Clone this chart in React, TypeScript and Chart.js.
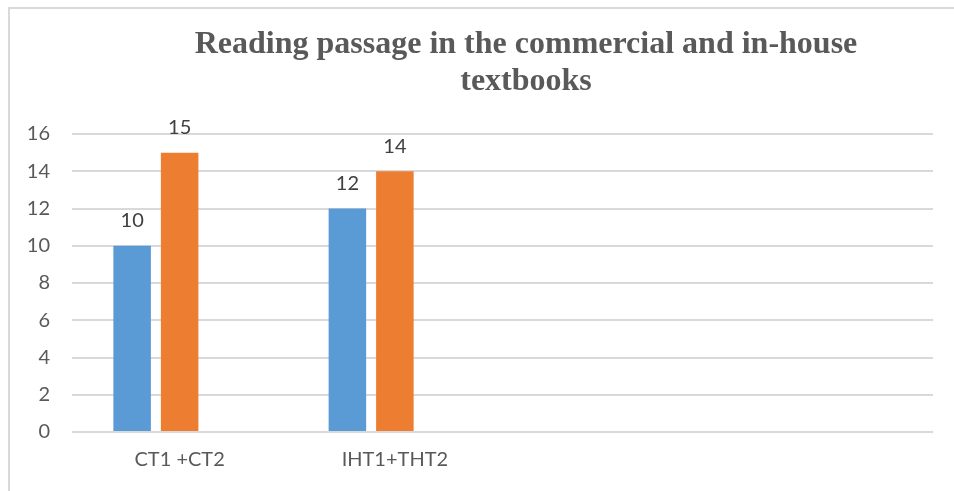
import React, { useEffect, useRef } from "react";
import { Chart, registerables } from "chart.js";

Chart.register(...registerables);

const titleLines = ["Reading passage in the commercial and in-house", "textbooks"];
const categories = ["CT1 +CT2", "IHT1+THT2", "", ""];
const series1 = [10, 12];
const series2 = [15, 14];
const series3: number[] = [];
const yTicks = [0, 2, 4, 6, 8, 10, 12, 14, 16];

const frameTitlePlugin = {
  id: "frameTitle",
  beforeDraw(chart: any) {
    const ctx = chart.ctx;
    ctx.save();
    ctx.fillStyle = "#ffffff";
    ctx.fillRect(0, 0, chart.width, chart.height);
    ctx.strokeStyle = "#d9d9d9";
    ctx.lineWidth = 2;
    ctx.beginPath();
    ctx.moveTo(9, chart.height);
    ctx.lineTo(9, 8);
    ctx.lineTo(chart.width, 8);
    ctx.stroke();
    ctx.fillStyle = "#595959";
    ctx.font = "bold 32px 'Liberation Serif', 'Times New Roman', serif";
    ctx.textAlign = "center";
    ctx.textBaseline = "alphabetic";
    ctx.fillText(titleLines[0], 526, 53);
    ctx.fillText(titleLines[1], 526, 90);
    ctx.restore();
  },
};

const valueLabelPlugin = {
  id: "valueLabels",
  afterDatasetsDraw(chart: any) {
    const ctx = chart.ctx;
    ctx.save();
    ctx.fillStyle = "#404040";
    ctx.font = "20px Lato, 'Open Sans', sans-serif";
    ctx.textAlign = "center";
    ctx.textBaseline = "alphabetic";
    chart.data.datasets.forEach((ds: any, di: number) => {
      const meta = chart.getDatasetMeta(di);
      meta.data.forEach((bar: any, i: number) => {
        const v = ds.data[i];
        if (v === undefined || v === null) return;
        ctx.fillText(String(v), bar.x, bar.y - 18.5);
      });
    });
    ctx.restore();
  },
};

export default function App() {
  const ref = useRef<HTMLCanvasElement>(null);
  useEffect(() => {
    if (!ref.current) return;
    const common = { categoryPercentage: 0.662, barPercentage: 0.79 };
    const chart = new Chart(ref.current, {
      type: "bar",
      data: {
        labels: categories,
        datasets: [
          { label: "Series 1", data: series1, backgroundColor: "#5B9BD5", ...common },
          { label: "Series 2", data: series2, backgroundColor: "#ED7D31", ...common },
          { label: "Series 3", data: series3, backgroundColor: "#A5A5A5", ...common },
        ],
      },
      options: {
        animation: false,
        responsive: false,
        maintainAspectRatio: false,
        layout: { padding: { top: 134, right: 21, left: 0, bottom: 0 } },
        plugins: { legend: { display: false }, title: { display: false }, tooltip: { enabled: false } },
        scales: {
          x: {
            grid: { display: false, drawTicks: false },
            border: { display: false },
            ticks: { color: "#595959", font: { family: "Lato, 'Open Sans', sans-serif", size: 20 }, padding: 16, maxRotation: 0, autoSkip: false },
            afterFit: (s: any) => { s.height = 59; },
          },
          y: {
            min: 0,
            max: 16,
            afterBuildTicks: (s: any) => { s.ticks = yTicks.map((v) => ({ value: v })); },
            grid: { color: "#d9d9d9", lineWidth: 2, drawTicks: false },
            border: { display: false },
            ticks: { color: "#595959", font: { family: "Lato, 'Open Sans', sans-serif", size: 20 }, padding: 22 },
            afterFit: (s: any) => { s.width = 72; },
          },
        },
      },
      plugins: [frameTitlePlugin, valueLabelPlugin],
    });
    return () => chart.destroy();
  }, []);
  return (
    <div style={{ position: "absolute", left: 0, top: 0, width: 954, height: 491, background: "#fff" }}>
      <canvas ref={ref} width={954} height={491} style={{ display: "block", width: 954, height: 491 }} />
    </div>
  );
}
